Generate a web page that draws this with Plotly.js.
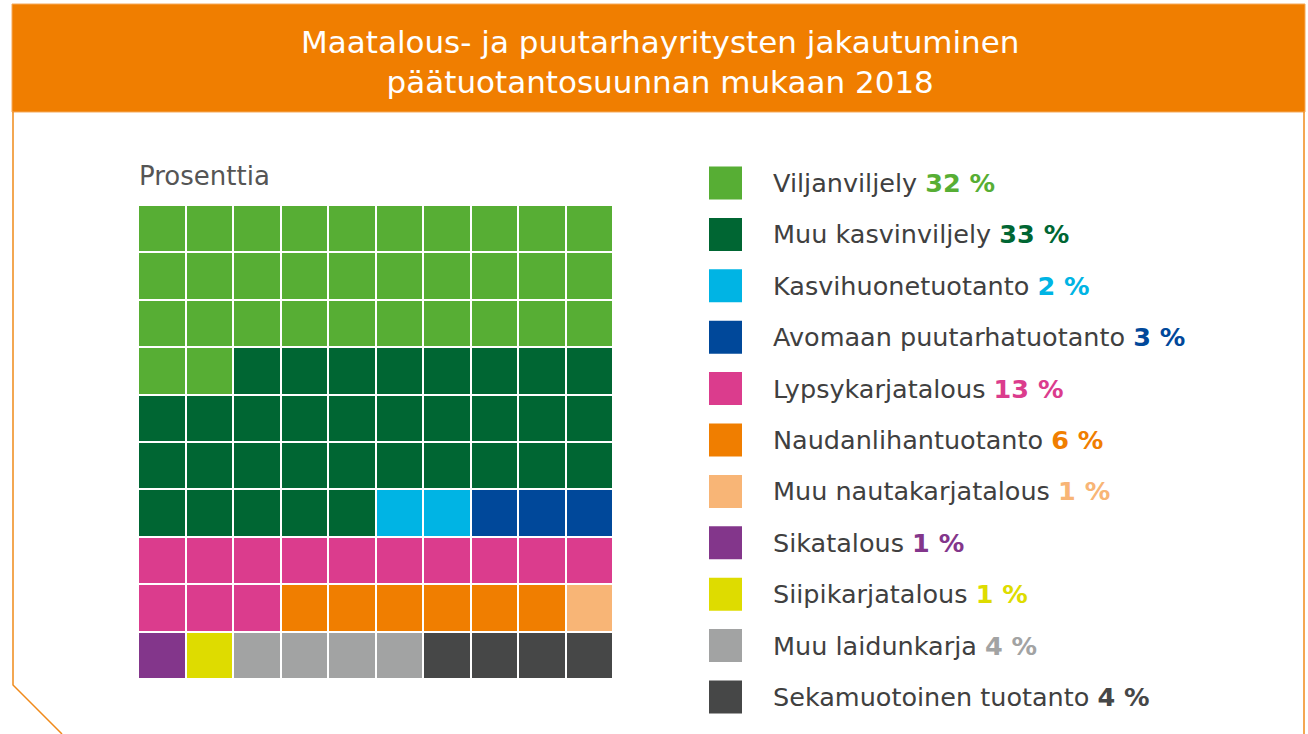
<!DOCTYPE html>
<html>
<head>
<meta charset="utf-8">
<script src="https://cdn.plot.ly/plotly-3.0.1.min.js"></script>
<style>html,body{margin:0;padding:0;background:#fff;}#chart{width:1308px;height:734px;}</style>
</head>
<body>
<div id="chart"></div>
<script>
// ---- data ----
const categories = ["Viljanviljely","Muu kasvinviljely","Kasvihuonetuotanto","Avomaan puutarhatuotanto","Lypsykarjatalous","Naudanlihantuotanto","Muu nautakarjatalous","Sikatalous","Siipikarjatalous","Muu laidunkarja","Sekamuotoinen tuotanto"];
const percents = [32,33,2,3,13,6,1,1,1,4,4];
const colors = ["#57AE34","#006633","#00B4E4","#00489A","#DB3C8D","#F07E00","#F8B576","#83368B","#DEDC00","#A2A3A3","#464747"];
const titleText = "Maatalous- ja puutarhayritysten jakautuminen<br>päätuotantosuunnan mukaan 2018";
const unitLabel = "Prosenttia";

// ---- build waffle grid (10x10) ----
const W = 1308, H = 734;
const px = v => v / W, py = v => 1 - v / H;
const seq = [];
categories.forEach((c, i) => { for (let k = 0; k < percents[i]; k++) seq.push(i); });
const z = [];
for (let r = 0; r < 10; r++) {
  const row = [];
  for (let c = 0; c < 10; c++) row.push(seq[r * 10 + c]);
  z.push(row);
}
const n = categories.length;
const colorscale = [];
colors.forEach((col, i) => {
  const lo = i === 0 ? 0 : (i - 0.5) / (n - 1);
  const hi = i === n - 1 ? 1 : (i + 0.5) / (n - 1);
  colorscale.push([lo, col]);
  colorscale.push([hi, col]);
});

const waffle = {
  type: "heatmap", z: z, x: [0,1,2,3,4,5,6,7,8,9], y: [0,1,2,3,4,5,6,7,8,9],
  zmin: 0, zmax: n - 1, colorscale: colorscale, showscale: false,
  xgap: 2, ygap: 2, hoverinfo: "skip", xaxis: "x", yaxis: "y"
};

const legendIdx = categories.map((c, i) => i);
const legendMarks = {
  type: "scatter", mode: "markers",
  x: legendIdx.map(() => 0), y: legendIdx,
  marker: { symbol: "square", size: 33, color: colors, line: { width: 0 } },
  hoverinfo: "skip", xaxis: "x2", yaxis: "y2", showlegend: false
};

const fontFam = "'DejaVu Sans', 'Open Sans', sans-serif";
const annotations = [];
categories.forEach((c, i) => {
  annotations.push({
    xref: "x2", yref: "y2", x: 45, y: i, xanchor: "left", yanchor: "middle",
    showarrow: false,
    text: c + " <b><span style='color:" + colors[i] + "'>" + percents[i] + " %</span></b>",
    font: { family: fontFam, size: 25.5, color: "#404040" }
  });
});
annotations.push({
  xref: "paper", yref: "paper", x: px(660), y: py(62), xanchor: "center", yanchor: "middle",
  showarrow: false, text: titleText,
  font: { family: fontFam, size: 31, color: "#ffffff" }
});
annotations.push({
  xref: "paper", yref: "paper", x: px(137), y: py(176), xanchor: "left", yanchor: "middle",
  showarrow: false, text: unitLabel,
  font: { family: fontFam, size: 26, color: "#555555" }
});

const shapes = [
  { type: "rect", xref: "paper", yref: "paper", x0: px(12), x1: px(1305), y0: py(112), y1: py(4),
    fillcolor: "#F07E00", line: { width: 1, color: "#F5A95A" }, layer: "below" },
  { type: "path", xref: "paper", yref: "paper",
    path: `M ${px(13)} ${py(112)} L ${px(13)} ${py(685)} L ${px(62)} ${py(734)}`,
    line: { width: 1.5, color: "#F08A1A" } },
  { type: "line", xref: "paper", yref: "paper", x0: px(1304), x1: px(1304), y0: py(112), y1: py(734),
    line: { width: 1.5, color: "#F08A1A" } }
];

const layout = {
  width: W, height: H, margin: { l: 0, r: 0, t: 0, b: 0 },
  paper_bgcolor: "#ffffff", plot_bgcolor: "rgba(0,0,0,0)", showlegend: false,
  xaxis: { domain: [px(138), px(613)], range: [-0.5, 9.5], visible: false, fixedrange: true },
  yaxis: { domain: [py(679), py(205)], range: [9.5, -0.5], visible: false, fixedrange: true },
  xaxis2: { domain: [0, 1], range: [-725.5, W - 725.5], visible: false, anchor: "y2", fixedrange: true },
  yaxis2: { domain: [py(722.7), py(157.3)], range: [10.5, -0.5], visible: false, anchor: "x2", fixedrange: true },
  annotations: annotations, shapes: shapes
};

Plotly.newPlot("chart", [waffle, legendMarks], layout, { staticPlot: true, displayModeBar: false });
</script>
</body>
</html>
